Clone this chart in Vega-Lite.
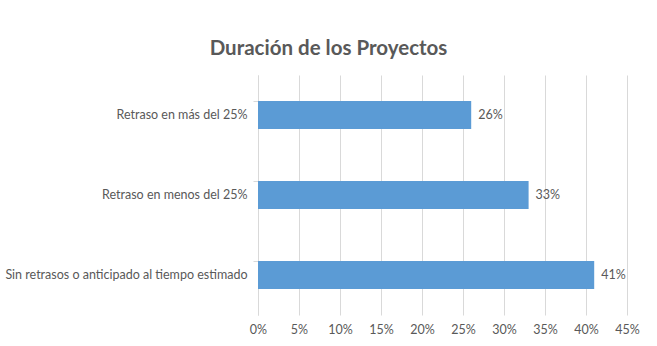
{
  "$schema": "https://vega.github.io/schema/vega-lite/v6.json",
  "autosize": "none",
  "width": 369,
  "height": 240,
  "padding": {"left": 258, "top": 75, "right": 30, "bottom": 31},
  "background": "white",
  "title": {
    "text": "Duración de los Proyectos",
    "font": "Lato",
    "fontSize": 20.5,
    "fontWeight": "bold",
    "color": "#595959",
    "anchor": "middle",
    "dx": -114,
    "offset": 16
  },
  "data": {
    "values": [
      {"categoria": "Retraso en más del 25%", "valor": 0.26},
      {"categoria": "Retraso en menos del 25%", "valor": 0.33},
      {"categoria": "Sin retrasos o anticipado al tiempo estimado", "valor": 0.41}
    ]
  },
  "encoding": {
    "y": {
      "field": "categoria",
      "type": "nominal",
      "sort": ["Retraso en más del 25%", "Retraso en menos del 25%", "Sin retrasos o anticipado al tiempo estimado"],
      "scale": {"paddingInner": 0.65, "paddingOuter": 0.325},
      "axis": {
        "title": null,
        "labelFont": "Lato",
        "labelFontSize": 12.5,
        "labelColor": "#595959",
        "labelPadding": 6,
        "labelLimit": 300,
        "domainColor": "#d9d9d9",
        "tickColor": "#d9d9d9",
        "tickSize": 5,
        "bandPosition": 0,
        "grid": false
      }
    },
    "x": {
      "field": "valor",
      "type": "quantitative",
      "scale": {"domain": [0, 0.45], "nice": false},
      "axis": {
        "title": null,
        "format": ".0%",
        "values": [0, 0.05, 0.1, 0.15, 0.2, 0.25, 0.3, 0.35, 0.4, 0.45],
        "labelFont": "Lato",
        "labelFontSize": 12.5,
        "labelColor": "#595959",
        "labelPadding": 8,
        "domain": false,
        "ticks": false,
        "grid": true,
        "gridColor": "#d9d9d9",
        "labelFlush": false
      }
    }
  },
  "layer": [
    {"mark": {"type": "bar", "color": "#5B9BD5"}},
    {
      "mark": {"type": "text", "align": "left", "baseline": "middle", "dx": 7, "font": "Lato", "fontSize": 12.5, "color": "#595959"},
      "encoding": {"text": {"field": "valor", "type": "quantitative", "format": ".0%"}}
    }
  ],
  "config": {"view": {"stroke": null}}
}
